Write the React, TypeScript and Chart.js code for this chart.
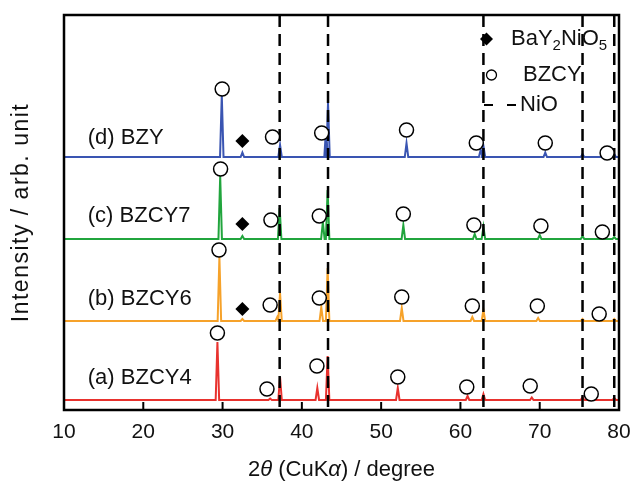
import React, { useEffect, useRef } from "react";
import { Chart, registerables } from "chart.js";

Chart.register(...registerables);

// ---------- data ----------
const X_TICKS = [10, 20, 30, 40, 50, 60, 70, 80];
const SAMPLES = ["(a) BZCY4", "(b) BZCY6", "(c) BZCY7", "(d) BZY"];
const OFFSETS = [10, 89, 171, 253]; // vertical stacking offsets (arb. unit)
const COLORS = ["#e8322e", "#f6a22a", "#21a53d", "#3a55b2"];

const BZCY4_PEAK_POS = [29.35, 36.0, 37.25, 41.95, 43.25, 52.1, 60.9, 62.9, 69.0, 75.4, 79.4];
const BZCY4_PEAK_INT = [58, 1.5, 23, 12, 44, 12, 4, 6, 2.5, 3, 2];
const BZCY6_PEAK_POS = [29.6, 32.5, 36.9, 37.25, 42.45, 43.25, 52.6, 61.5, 62.9, 69.8, 75.4, 79.4];
const BZCY6_PEAK_INT = [64, 2, 4, 28, 14, 53, 13, 4, 11, 3, 2, 2];
const BZCY7_PEAK_POS = [29.7, 32.5, 37.2, 42.65, 43.25, 52.8, 61.8, 62.9, 70.0, 75.4, 79.4];
const BZCY7_PEAK_INT = [63, 3, 31, 17, 49, 14, 5, 12, 4, 3, 2];
const BZY_PEAK_POS = [29.9, 32.5, 37.25, 43.05, 43.3, 53.2, 62.55, 62.9, 70.7, 75.4, 79.4];
const BZY_PEAK_INT = [62, 4.5, 12, 28, 54, 14, 7, 11, 4.5, 3, 3];

// BZCY reflections (open circles): position and height above baseline
const BZCY4_MARK_POS = [29.35, 35.6, 41.9, 52.1, 60.8, 68.8, 76.5];
const BZCY4_MARK_INT = [67, 11, 34, 23, 13, 14, 6];
const BZCY6_MARK_POS = [29.55, 36.0, 42.2, 52.6, 61.5, 69.7, 77.5];
const BZCY6_MARK_INT = [71, 16, 23, 24, 15, 15, 7];
const BZCY7_MARK_POS = [29.75, 36.1, 42.2, 52.8, 61.7, 70.15, 77.9];
const BZCY7_MARK_INT = [70, 19, 23, 25, 14, 13, 7];
const BZY_MARK_POS = [29.95, 36.3, 42.5, 53.2, 62.0, 70.7, 78.5];
const BZY_MARK_INT = [68, 20, 24, 27, 14, 14, 4];

// BaY2NiO5 (filled diamonds): samples b, c, d
const BAY_MARK_POS = [32.5, 32.5, 32.5];
const BAY_MARK_INT = [12, 15, 16];
const BAY_SAMPLE_INDEX = [1, 2, 3];

// NiO reference lines
const NIO_POS = [37.2, 43.3, 62.9, 75.4, 79.4];

const Y_TOP = 395;
const PEAK_HALF_WIDTH = 0.22;
const FONT = "'Liberation Sans', Arial, Helvetica, sans-serif";

function tracePoints(pos: number[], hts: number[], offset: number) {
  const pts: { x: number; y: number }[] = [{ x: 10, y: offset }];
  pos.forEach((p, i) => {
    pts.push({ x: p - PEAK_HALF_WIDTH, y: offset });
    pts.push({ x: p, y: offset + hts[i] });
    pts.push({ x: p + PEAK_HALF_WIDTH, y: offset });
  });
  pts.push({ x: 80, y: offset });
  return pts;
}

function markPoints(pos: number[], hts: number[], offset: number) {
  return pos.map((p, i) => ({ x: p, y: offset + hts[i] }));
}

const overlayPlugin = {
  id: "overlay",
  afterDatasetsDraw(chart: any) {
    const { ctx, chartArea: a, scales } = chart;
    const xs = scales.x;
    const ys = scales.y;
    ctx.save();
    // frame
    ctx.strokeStyle = "#000";
    ctx.lineWidth = 2.5;
    ctx.setLineDash([]);
    ctx.strokeRect(a.left, a.top, a.right - a.left, a.bottom - a.top);
    // inward tick marks
    ctx.lineWidth = 2;
    X_TICKS.forEach((v) => {
      const px = xs.getPixelForValue(v);
      ctx.beginPath();
      ctx.moveTo(px, a.bottom);
      ctx.lineTo(px, a.bottom - 8);
      ctx.stroke();
    });
    // sample labels
    const labelRise = [22, 22.5, 23, 19];
    ctx.fillStyle = "#111";
    ctx.font = `22px ${FONT}`;
    ctx.textAlign = "left";
    ctx.textBaseline = "middle";
    SAMPLES.forEach((s, i) => {
      ctx.fillText(s, xs.getPixelForValue(13.0), ys.getPixelForValue(OFFSETS[i] + labelRise[i]));
    });

    // legend
    ctx.fillStyle = "#000";
    const dx = 486.5, dy = 39, dr = 6.5;
    ctx.beginPath();
    ctx.moveTo(dx, dy - dr);
    ctx.lineTo(dx + dr, dy);
    ctx.lineTo(dx, dy + dr);
    ctx.lineTo(dx - dr, dy);
    ctx.closePath();
    ctx.fill();
    ctx.fillStyle = "#111";
    let tx = 511;
    const parts: [string, boolean][] = [["BaY", false], ["2", true], ["NiO", false], ["5", true]];
    parts.forEach(([t, sub]) => {
      ctx.font = sub ? `15px ${FONT}` : `22px ${FONT}`;
      ctx.fillText(t, tx, sub ? dy + 7 : dy);
      tx += ctx.measureText(t).width;
    });
    ctx.beginPath();
    ctx.arc(491.5, 75, 5, 0, Math.PI * 2);
    ctx.fillStyle = "#fff";
    ctx.fill();
    ctx.lineWidth = 1.3;
    ctx.strokeStyle = "#000";
    ctx.stroke();
    ctx.fillStyle = "#111";
    ctx.font = `22px ${FONT}`;
    ctx.fillText("BZCY", 523, 75);
    ctx.beginPath();
    ctx.setLineDash([9, 14]);
    ctx.lineWidth = 2;
    ctx.moveTo(484, 105);
    ctx.lineTo(518, 105);
    ctx.stroke();
    ctx.setLineDash([]);
    ctx.fillText("NiO", 520, 105);

    // y title
    ctx.save();
    ctx.translate(22, (a.top + a.bottom) / 2);
    ctx.rotate(-Math.PI / 2);
    ctx.textAlign = "center";
    ctx.font = `23px ${FONT}`;
    try {
      (ctx as any).letterSpacing = "1.5px";
    } catch (e) {}
    ctx.fillText("Intensity / arb. unit", 0, 0);
    try {
      (ctx as any).letterSpacing = "0px";
    } catch (e) {}
    ctx.restore();

    // x title with italic symbols
    const segs: [string, boolean][] = [["2", false], ["\u03b8", true], [" (CuK", false], ["\u03b1", true], [") / degree", false]];
    let total = 0;
    segs.forEach(([t, it]) => {
      ctx.font = `${it ? "italic " : ""}22px ${FONT}`;
      total += ctx.measureText(t).width;
    });
    let sx = (a.left + a.right) / 2 - total / 2;
    ctx.textAlign = "left";
    segs.forEach(([t, it]) => {
      ctx.font = `${it ? "italic " : ""}22px ${FONT}`;
      ctx.fillText(t, sx, 470);
      sx += ctx.measureText(t).width;
    });
    ctx.restore();
  },
};

export default function App() {
  const ref = useRef<HTMLCanvasElement | null>(null);
  useEffect(() => {
    document.body.style.margin = "0";
    if (!ref.current) return;
    const traces = [
      tracePoints(BZCY4_PEAK_POS, BZCY4_PEAK_INT, OFFSETS[0]),
      tracePoints(BZCY6_PEAK_POS, BZCY6_PEAK_INT, OFFSETS[1]),
      tracePoints(BZCY7_PEAK_POS, BZCY7_PEAK_INT, OFFSETS[2]),
      tracePoints(BZY_PEAK_POS, BZY_PEAK_INT, OFFSETS[3]),
    ];
    const marks = [
      markPoints(BZCY4_MARK_POS, BZCY4_MARK_INT, OFFSETS[0]),
      markPoints(BZCY6_MARK_POS, BZCY6_MARK_INT, OFFSETS[1]),
      markPoints(BZCY7_MARK_POS, BZCY7_MARK_INT, OFFSETS[2]),
      markPoints(BZY_MARK_POS, BZY_MARK_INT, OFFSETS[3]),
    ];
    const bay = BAY_MARK_POS.map((p, i) => ({ x: p, y: OFFSETS[BAY_SAMPLE_INDEX[i]] + BAY_MARK_INT[i] }));

    const datasets: any[] = [];
    marks.forEach((m, i) =>
      datasets.push({
        label: "BZCY " + SAMPLES[i],
        data: m,
        showLine: false,
        pointStyle: "circle",
        pointRadius: 7,
        pointBackgroundColor: "#fff",
        pointBorderColor: "#000",
        pointBorderWidth: 1.5,
        order: 0,
      })
    );
    datasets.push({
      label: "BaY2NiO5",
      data: bay,
      showLine: false,
      pointStyle: "rectRot",
      pointRadius: 7,
      pointBackgroundColor: "#000",
      pointBorderColor: "#000",
      pointBorderWidth: 0,
      order: 0,
    });
    NIO_POS.forEach((p) =>
      datasets.push({
        label: "NiO",
        data: [
          { x: p, y: Y_TOP },
          { x: p, y: 0 },
        ],
        showLine: true,
        borderColor: "#000",
        borderWidth: 2.5,
        borderDash: [12, 7],
        pointRadius: 0,
        order: 1,
      })
    );
    traces.forEach((t, i) =>
      datasets.push({
        label: SAMPLES[i],
        data: t,
        showLine: true,
        borderColor: COLORS[i],
        borderWidth: 2,
        pointRadius: 0,
        tension: 0,
        order: 2,
      })
    );

    const chart = new Chart(ref.current, {
      type: "scatter",
      data: { datasets },
      options: {
        animation: false,
        responsive: true,
        maintainAspectRatio: false,
        layout: { padding: { left: 64, right: 11, top: 15, bottom: 0 } },
        plugins: { legend: { display: false }, tooltip: { enabled: false } },
        scales: {
          x: {
            type: "linear",
            min: 10,
            max: 80,
            grid: { display: false, drawTicks: false },
            border: { display: false },
            ticks: {
              stepSize: 10,
              padding: 10,
              color: "#111",
              font: { size: 21, family: FONT },
            },
            afterFit: (scale: any) => {
              scale.height = 78;
              scale.paddingLeft = 0;
              scale.paddingRight = 0;
            },
          },
          y: { type: "linear", min: 0, max: Y_TOP, display: false },
        },
      },
      plugins: [overlayPlugin],
    });
    return () => chart.destroy();
  }, []);

  return (
    <div style={{ width: 630, height: 488, position: "relative", background: "#fff" }}>
      <canvas ref={ref} />
    </div>
  );
}
